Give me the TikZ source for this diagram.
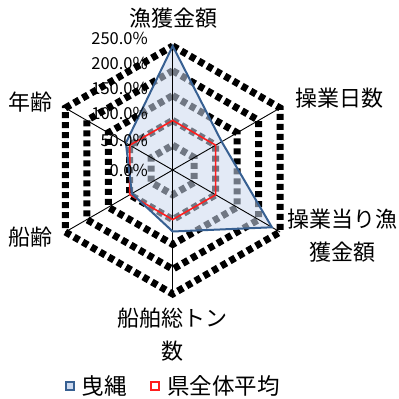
\documentclass[tikz,border=0pt]{standalone}
\usepackage{fontspec}
\setmainfont{Noto Sans CJK JP}
\definecolor{serblue}{RGB}{55,96,146}
\definecolor{serred}{RGB}{255,30,30}
\definecolor{areablue}{RGB}{205,218,240}
\tikzset{
  gridring/.style={draw=black,line width=7pt,dash pattern=on 6pt off 4pt},
  spoke/.style={draw=black,line width=0.9pt},
  catlabel/.style={font=\fontsize{22}{33}\selectfont,inner sep=0pt,align=center},
  ticklabel/.style={font=\fontsize{16.5}{18}\selectfont,inner sep=0pt,anchor=east},
  leglabel/.style={font=\fontsize{22.5}{26}\selectfont,inner sep=0pt},
}
\begin{document}
\begin{tikzpicture}[x=1pt,y=1pt]
\useasboundingbox (0,0) rectangle (399,399);
\fill[white] (0,0) rectangle (399,399);
\coordinate (C) at (172.7,229);
\begin{scope}[shift={(C)}]
  % grid rings
  \foreach \p in {50,100,150,200,250} {
    \pgfmathsetmacro{\rr}{\p*0.496}
    \draw[gridring] (90:\rr) -- (30:\rr) -- (-30:\rr) -- (-90:\rr) -- (-150:\rr) -- (150:\rr) -- cycle;
  }
  % outer vertices
  \coordinate (v1) at (90:124);
  \coordinate (v2) at (30:124);
  \coordinate (v3) at (-30:124);
  \coordinate (v4) at (-90:124);
  \coordinate (v5) at (-150:124);
  \coordinate (v6) at (150:124);
  % blue series points
  \coordinate (b1) at (90:{250*0.496});
  \coordinate (b2) at (30:{114*0.496});
  \coordinate (b3) at (-30:{231*0.496});
  \coordinate (b4) at (-90:{124*0.496});
  \coordinate (b5) at (-150:{95*0.496});
  \coordinate (b6) at (150:{109*0.496});
  % red series points
  \coordinate (r1) at (90:49.6);
  \coordinate (r2) at (30:49.6);
  \coordinate (r3) at (-30:49.6);
  \coordinate (r4) at (-90:49.6);
  \coordinate (r5) at (-150:49.6);
  \coordinate (r6) at (150:49.6);
\end{scope}
% area fill of the blue series
\fill[areablue,opacity=0.55] (b1) -- (b2) -- (b3) -- (b4) -- (b5) -- (b6) -- cycle;
% spokes
\foreach \v in {v1,v2,v3,v4,v5,v6} { \draw[spoke] (C) -- (\v); }
% red series
\draw[serred,line width=1.6pt,line join=miter] (r1) -- (r2) -- (r3) -- (r4) -- (r5) -- (r6) -- cycle;
% blue series
\draw[serblue,line width=2pt,line join=miter] (b1) -- (b2) -- (b3) -- (b4) -- (b5) -- (b6) -- cycle;
% tick labels
\node[ticklabel] (t250) at (148,361) {250.0\%};
\node[ticklabel] (t200) at (148,336) {200.0\%};
\node[ticklabel] (t150) at (148,311) {150.0\%};
\node[ticklabel] (t100) at (148,286) {100.0\%};
\node[ticklabel] (t50) at (148,259) {50.0\%};
\node[ticklabel] (t0) at (148,229) {0.0\%};
% category labels
\node[catlabel] (l1) at (173,381) {漁獲金額};
\node[catlabel] (l2) at (339,301) {操業日数};
\node[catlabel] (l3) at (342,163) {操業当り漁\\獲金額};
\node[catlabel] (l4) at (172,64) {船舶総トン\\数};
\node[catlabel] (l5) at (31,162) {船齢};
\node[catlabel] (l6) at (31,297) {年齢};
% legend
\node[draw=serblue,fill=areablue,line width=2.5pt,minimum size=8pt,inner sep=0pt] (mk1) at (70,13) {};
\node[leglabel] (lg1) at (104,13) {曳縄};
\node[draw=serred,fill=white,line width=2pt,minimum size=8pt,inner sep=0pt] (mk2) at (155,13) {};
\node[leglabel] (lg2) at (223.5,13) {県全体平均};
\end{tikzpicture}
\end{document}
